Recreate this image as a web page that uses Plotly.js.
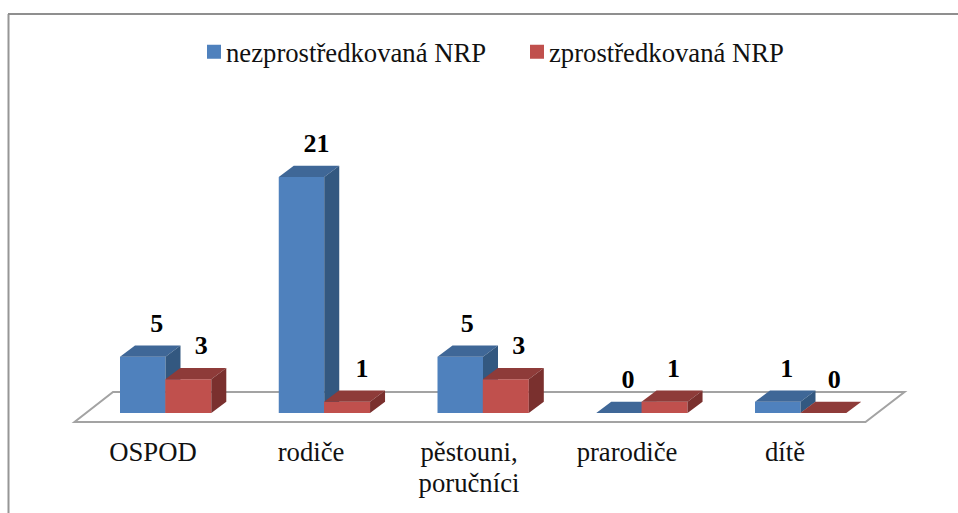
<!DOCTYPE html>
<html><head><meta charset="utf-8">
<script src="https://cdn.plot.ly/plotly-3.0.1.min.js"></script>
<style>html,body{margin:0;padding:0;background:#fff;overflow:hidden}</style>
</head><body><div id="chart" style="width:958px;height:513px"></div>
<script>
const categories = ["OSPOD","rodiče","pěstouni,<br>poručníci","prarodiče","dítě"];
const seriesDirectName = "nezprostředkovaná NRP";
const seriesMediatedName = "zprostředkovaná NRP";
const directValues = [5,21,5,0,1];
const mediatedValues = [3,1,3,1,0];

// geometry in axis units
const W=958,H=513,PLOT_BOTTOM=430,BASE_PX=413,PX_PER_VALUE=11.24,PX_PER_CAT=158.75,CAT0_PX=153,TICK_SPACING_PX=158;
const xRange=[(0-CAT0_PX)/PX_PER_CAT,(W-CAT0_PX)/PX_PER_CAT];
const yRange=[(BASE_PX-PLOT_BOTTOM)/PX_PER_VALUE,BASE_PX/PX_PER_VALUE];
const xOf=p=>(p-CAT0_PX)/PX_PER_CAT, yOf=p=>(BASE_PX-p)/PX_PER_VALUE;
const depthX=15/PX_PER_CAT, depthY=1;
const blueW=45.5/PX_PER_CAT, redW=46/PX_PER_CAT, blueOff=-33/PX_PER_CAT, redOff=12.3/PX_PER_CAT;
const xs=categories.map((_,i)=>i);

function faces(vals,off,w){
  const top={x:[],y:[]},side={x:[],y:[]};
  const add=(t,pts)=>{pts.forEach(p=>{t.x.push(p[0]);t.y.push(p[1]);});t.x.push(null);t.y.push(null);};
  vals.forEach((v,i)=>{
    const a=i+off,b=a+w;
    add(top,[[a,v],[a+depthX,v+depthY],[b+depthX,v+depthY],[b,v],[a,v]]);
    if(v>0) add(side,[[b,0],[b+depthX,depthY],[b+depthX,v+depthY],[b,v],[b,0]]);
  });
  return {top,side};
}
const poly=(f,color,xa,ya)=>({type:'scatter',mode:'lines',x:f.x,y:f.y,fill:'toself',fillcolor:color,
  line:{width:0,color:color},hoverinfo:'skip',showlegend:false,xaxis:xa,yaxis:ya});
const blueF=faces(directValues,blueOff,blueW), redF=faces(mediatedValues,redOff,redW);

const labelFont={family:'"Liberation Serif",serif',size:26,color:'#000',weight:'bold'};
const labelTrace=(vals,off,w,shiftPx)=>({type:'scatter',mode:'text',xaxis:'x2',yaxis:'y2',showlegend:false,hoverinfo:'skip',
  x:vals.map((v,i)=>i+off+w/2+shiftPx[i]/PX_PER_CAT),
  y:vals.map(v=>v+2.8),
  text:vals.map(String),textposition:'middle center',textfont:labelFont,cliponaxis:false});

const data=[
 {type:'bar',name:seriesDirectName,x:xs,y:directValues,width:blueW,offset:blueOff,marker:{color:'#4F81BD',line:{width:0}},xaxis:'x',yaxis:'y'},
 poly(blueF.top,'#3F6797','x','y'),
 poly(blueF.side,'#335880','x','y'),
 {type:'bar',name:seriesMediatedName,x:xs,y:mediatedValues,width:redW,offset:redOff,marker:{color:'#C0504D',line:{width:0}},xaxis:'x2',yaxis:'y2'},
 poly(redF.top,'#8E3B39','x2','y2'),
 poly(redF.side,'#7A302E','x2','y2'),
 labelTrace(directValues,blueOff,blueW,[14,15,7,9,9]),
 labelTrace(mediatedValues,redOff,redW,[13,15,13,9,11])
];

const floorPath='M'+[[74.5,422],[865.5,422],[904.5,392],[113,392]].map(p=>xOf(p[0])+','+yOf(p[1])).join('L')+'Z';
const layout={
 width:W,height:H,margin:{l:0,r:0,t:0,b:H-PLOT_BOTTOM,pad:0},
 paper_bgcolor:'#fff',plot_bgcolor:'rgba(0,0,0,0)',barmode:'overlay',
 font:{family:'"Liberation Serif",serif',size:26.7,color:'#111'},
 xaxis:{range:xRange,tickmode:'array',tickvals:xs.map(i=>i*TICK_SPACING_PX/PX_PER_CAT),ticktext:categories,showgrid:false,zeroline:false,showline:false,ticks:'',ticklabelstandoff:3,tickangle:0,fixedrange:true,
        tickfont:{family:'"Liberation Serif",serif',size:26.7,color:'#111'}},
 yaxis:{range:yRange,showgrid:false,zeroline:false,showline:false,showticklabels:false,ticks:'',fixedrange:true},
 xaxis2:{range:xRange,overlaying:'x',visible:false,fixedrange:true},
 yaxis2:{range:yRange,overlaying:'y',visible:false,fixedrange:true},
 legend:{orientation:'h',xanchor:'left',yanchor:'middle',x:186/W,y:1-52/PLOT_BOTTOM,xref:'paper',yref:'paper',bgcolor:'rgba(0,0,0,0)',
         font:{family:'"Liberation Serif",serif',size:26.7,color:'#111'},itemclick:false,itemdoubleclick:false,traceorder:'normal',
         entrywidth:278,entrywidthmode:'pixels'},
 shapes:[
  {type:'path',path:floorPath,xref:'x',yref:'y',layer:'below',line:{color:'#A3A3A3',width:2},fillcolor:'rgba(0,0,0,0)'},
  {type:'line',xref:'paper',yref:'paper',layer:'above',x0:8.5/W,x1:8.5/W,y0:1-14/PLOT_BOTTOM,y1:1-520/PLOT_BOTTOM,line:{color:'#969696',width:2}},
  {type:'line',xref:'paper',yref:'paper',layer:'above',x0:8/W,x1:1,y0:1-14/PLOT_BOTTOM,y1:1-14/PLOT_BOTTOM,line:{color:'#8F8F8F',width:2}}
 ],
 showlegend:true
};
Plotly.newPlot('chart',data,layout,{displayModeBar:false,staticPlot:true}).then(gd=>{
  // Legend swatches: 14 px squares sitting 5 px from the text, as in the original chart
  gd.querySelectorAll('.legend .legendsymbols').forEach(g=>g.setAttribute('transform','translate(8,0)'));
  gd.querySelectorAll('.legend .legendpoints path').forEach(p=>{
    p.style.strokeWidth='2px';p.style.stroke=p.style.fill;
  });
  // Tighter line spacing of the two-line category label
  gd.querySelectorAll('.xtick text tspan.line').forEach(t=>{
    const dy=t.getAttribute('dy'); if(dy && dy.indexOf('1.3')===0) t.setAttribute('dy','1.18em');
  });
});
</script></body></html>
